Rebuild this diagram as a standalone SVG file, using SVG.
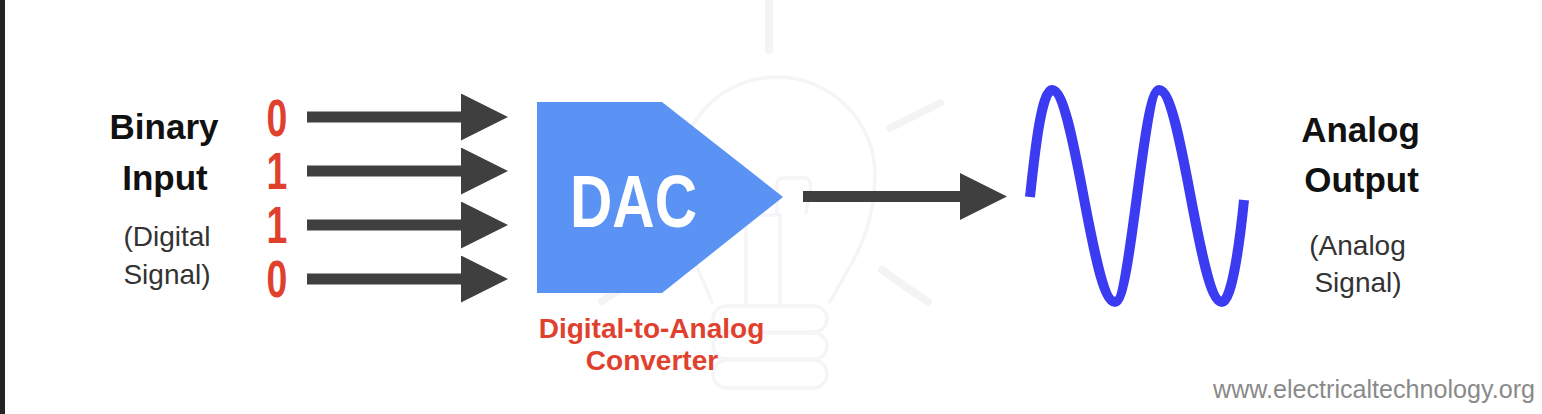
<svg xmlns="http://www.w3.org/2000/svg" width="1542" height="414" viewBox="0 0 1542 414">
  <style>
    text { font-family: "Liberation Sans", Arial, sans-serif; }
    .lbl { font-weight: bold; font-size: 35px; fill: #111; text-anchor: middle; }
    .sub { font-size: 28px; fill: #333; text-anchor: middle; }
    .bit { font-weight: bold; font-size: 52px; fill: #e0412e; text-anchor: middle; }
    .red { font-weight: bold; font-size: 28px; fill: #e0412e; text-anchor: middle; }
    .conn { stroke: #3f3f3f; stroke-width: 11; fill: none; marker-end: url(#head); }
    .wm { fill: none; stroke: #f5f5f7; stroke-width: 3.5; stroke-linecap: round; }
    .ray { fill: none; stroke: #f4f4f6; stroke-width: 8; stroke-linecap: round; }
  </style>
  <defs>
    <marker id="head" markerUnits="userSpaceOnUse" markerWidth="48" markerHeight="48" refX="1" refY="23.5" orient="auto">
      <path d="M0,0 L47,23.5 L0,47 Z" fill="#3f3f3f"/>
    </marker>
  </defs>
  <rect width="1542" height="414" fill="#ffffff"/>
  <rect x="0" y="0" width="5" height="414" fill="#232323"/>

  <g id="watermark">
    <line class="ray" x1="769" y1="0" x2="769" y2="50"/>
    <line class="ray" x1="890" y1="128" x2="940" y2="103"/>
    <line class="ray" x1="882" y1="270" x2="928" y2="302"/>
    <line class="ray" x1="650" y1="270" x2="602" y2="301"/>
    <path class="wm" d="M712,302 C700,272 679,238 679,175 A98,98 0 0 1 875,175 C875,238 845,272 830,302"/>
    <path class="wm" d="M777,215 L777,183 Q777,178 785,178 L806,178 Q812,180 810,192 L806,213 M746,305 L746,215 L780,215 L780,305"/>
    <rect class="wm" x="713" y="306" width="114" height="26" rx="13"/>
    <rect class="wm" x="713" y="333" width="114" height="26" rx="13"/>
    <rect class="wm" x="713" y="360" width="114" height="28" rx="14"/>
  </g>

  <g id="input-label">
    <text class="lbl" x="164" y="139">Binary</text>
    <text class="lbl" x="165" y="190">Input</text>
    <text class="sub" x="167" y="246">(Digital</text>
    <text class="sub" x="167" y="284">Signal)</text>
  </g>

  <g id="bits" transform="scale(0.72,1)">
    <text class="bit" x="384.7" y="136">0</text>
    <text class="bit" x="384.7" y="189">1</text>
    <text class="bit" x="384.7" y="243">1</text>
    <text class="bit" x="384.7" y="297">0</text>
  </g>

  <g id="connectors">
    <line class="conn" x1="307" y1="117" x2="462" y2="117"/>
    <line class="conn" x1="307" y1="171" x2="462" y2="171"/>
    <line class="conn" x1="307" y1="225" x2="462" y2="225"/>
    <line class="conn" x1="307" y1="279" x2="462" y2="279"/>
    <line class="conn" x1="803" y1="196.5" x2="961" y2="196.5" stroke-width="12"/>
  </g>

  <g id="dac">
    <polygon points="537,102 662,102 783,197 662,293 537,293" fill="#5b93f5"/>
    <text x="633.5" y="227" font-size="75" font-weight="bold" fill="#ffffff" text-anchor="middle" textLength="127" lengthAdjust="spacingAndGlyphs">DAC</text>
    <text class="red" x="651.5" y="338">Digital-to-Analog</text>
    <text class="red" x="652" y="370">Converter</text>
  </g>

  <g id="analog-wave">
    <path d="M1030,197 C1034,160 1041,90 1052,90 C1075,90 1092,302 1115,302 C1131,302 1143,90 1159,90 C1182,90 1199,302 1222,302 C1232,302 1240,240 1244,200" fill="none" stroke="#3b3bf2" stroke-width="10"/>
  </g>

  <g id="output-label">
    <text class="lbl" x="1360.5" y="142">Analog</text>
    <text class="lbl" x="1361.5" y="192">Output</text>
    <text class="sub" x="1357.5" y="255">(Analog</text>
    <text class="sub" x="1358" y="292">Signal)</text>
  </g>

  <text x="1213" y="398" font-size="25" fill="#8a8a8a" textLength="322" lengthAdjust="spacingAndGlyphs">www.electricaltechnology.org</text>
</svg>
